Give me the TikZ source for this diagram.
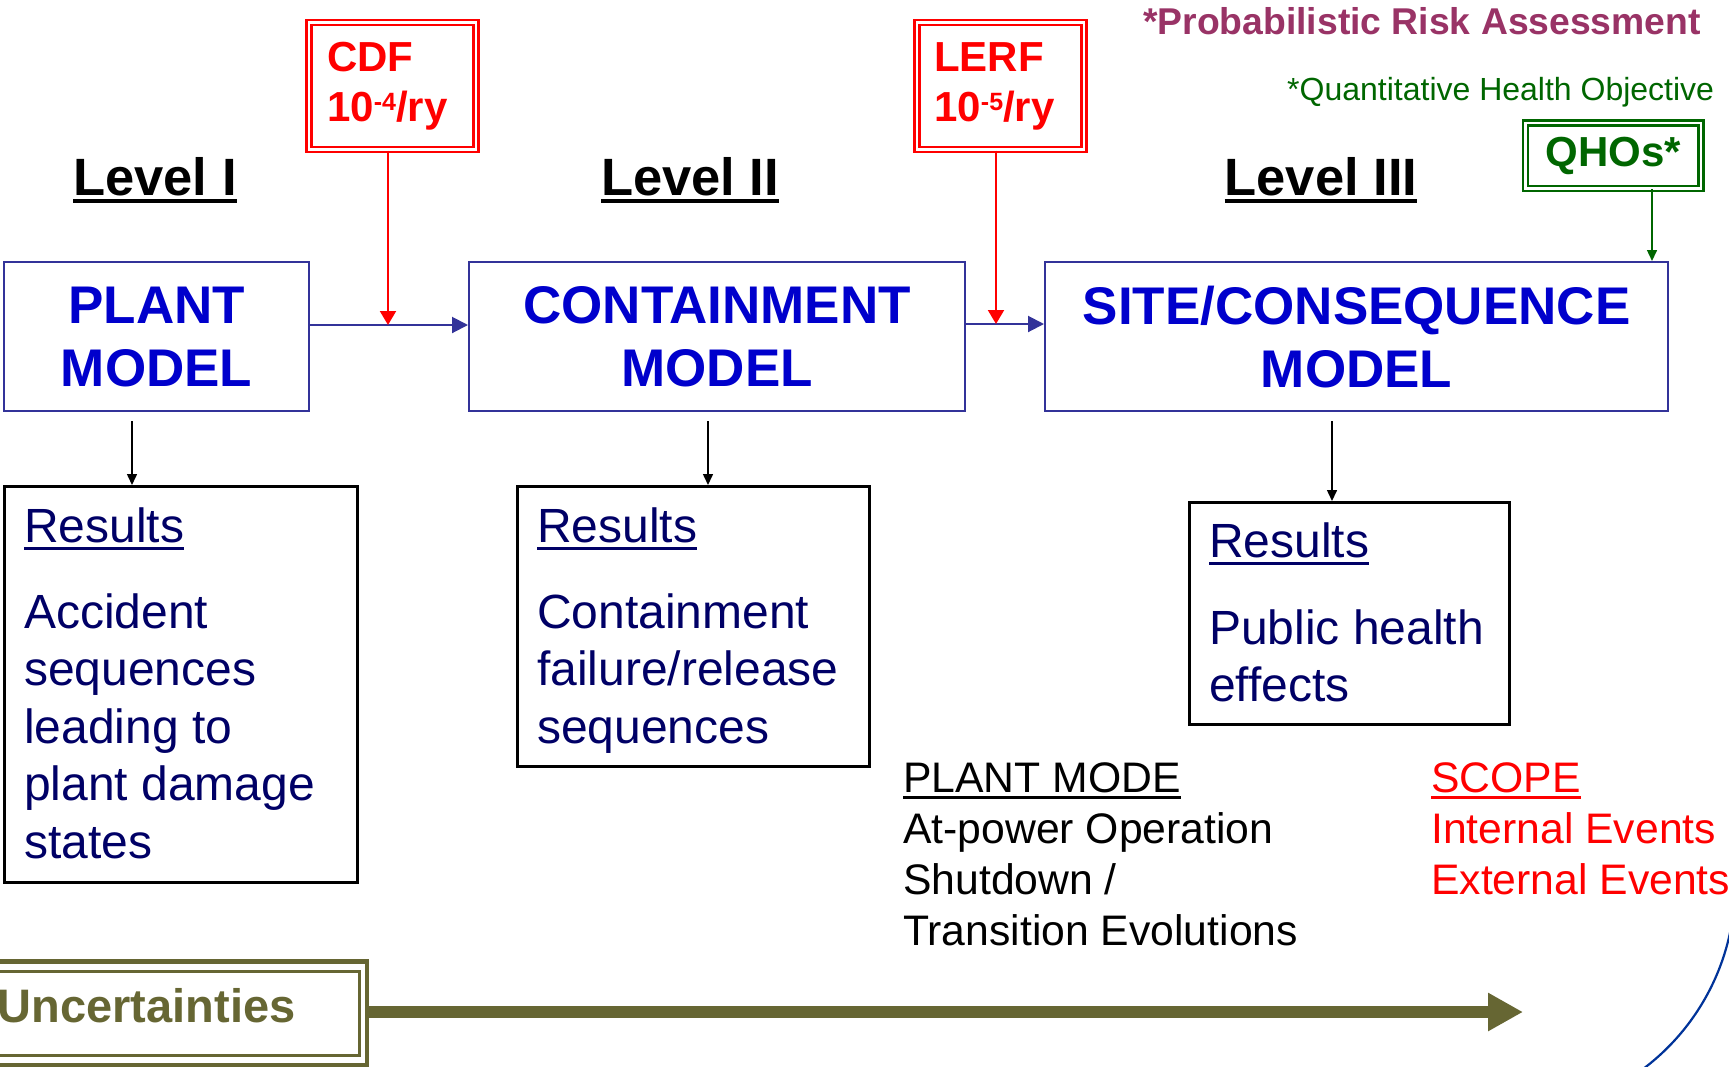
\documentclass[tikz,border=0pt]{standalone}
\usepackage{fontspec}
\setmainfont{Liberation Sans}
\usetikzlibrary{arrows.meta}
\definecolor{boxblue}{HTML}{333399}
\definecolor{modelblue}{HTML}{0000CC}
\definecolor{navytext}{HTML}{000066}
\definecolor{qgreen}{HTML}{006600}
\definecolor{prapurple}{HTML}{993366}
\definecolor{uncolive}{HTML}{666633}
\definecolor{arcblue}{HTML}{003399}
\definecolor{pred}{HTML}{FF0000}
\newsavebox\ulbox
\newcommand\ulin[3]{\sbox\ulbox{#3}\rlap{\rule[-#1]{\wd\ulbox}{#2}}\usebox\ulbox}
\newcommand\fsz[2]{\fontsize{#1pt}{#2pt}\selectfont}
\begin{document}
\begin{tikzpicture}[x=1pt,y=-1pt,
  txt/.style={inner sep=0pt, anchor=base west},
  modelbox/.style={draw=boxblue, line width=2.2pt, inner sep=0pt, anchor=north west,
    align=center, text=modelblue, font=\bfseries\fsz{53}{63}},
  resbox/.style={draw=black, line width=2.5pt, inner sep=0pt, anchor=north west},
  redbox/.style={draw=pred, double=white, line width=2.4pt, double distance=2.6pt,
    inner sep=0pt, anchor=north west, minimum width=166.9pt, minimum height=127.3pt},
  restext/.style={txt, text=navytext, font=\fsz{48}{57.5}},
  leveltext/.style={inner sep=0pt, anchor=base, font=\bfseries\fsz{52.5}{60}},
  redtext/.style={txt, text=pred, font=\bfseries\fsz{42}{50}},
  modetext/.style={txt, font=\fsz{42.7}{51.3}},
  bluearrow/.style={draw=boxblue, line width=2pt, -{Triangle[length=16pt,width=16pt]}},
  redarrow/.style={draw=pred, line width=2pt, -{Triangle[length=14pt,width=16pt]}},
  downarrow/.style={draw=black, line width=1.5pt, -{Triangle[length=11pt,width=10pt]}},
  greenarrow/.style={draw=qgreen, line width=1.5pt, -{Triangle[length=11pt,width=10pt]}},
  uncarrow/.style={draw=uncolive, line width=12pt, -{Triangle[length=35pt,width=36pt]}}
]
\useasboundingbox (0,0) rectangle (1729,1066);
\fill[white] (0,0) rectangle (1729,1066);
\clip (0,0) rectangle (1729,1066);

% headings
\node[txt, text=prapurple, font=\bfseries\fsz{37.3}{44}] (pra) at (1143,34) {*Probabilistic Risk Assessment};
\node[txt, text=qgreen, font=\fsz{32}{38}] (qhodef) at (1287,100) {*Quantitative Health Objective};

\node[leveltext] (lv1) at (155,195) {\ulin{7.5pt}{3.5pt}{Level I}};
\node[leveltext] (lv2) at (690,195) {\ulin{7.5pt}{3.5pt}{Level II}};
\node[leveltext] (lv3) at (1321,195) {\ulin{7.5pt}{3.5pt}{Level III}};

% criteria boxes
\node[redbox] (cdf) at (307.7,21) {};
\node[redtext] (cdft) at (327,71) {\vtop{\hbox{CDF}\hbox{10\raisebox{11pt}{\fsz{25}{25}-4}/ry}}};
\node[redbox] (lerf) at (915.7,21) {};
\node[redtext] (lerft) at (934,71) {\vtop{\hbox{LERF}\hbox{10\raisebox{11pt}{\fsz{25}{25}-5}/ry}}};

\node[draw=qgreen, double=white, line width=2.4pt, double distance=2.6pt, inner sep=0pt,
  anchor=north west, minimum width=175.6pt, minimum height=65.3pt, text=qgreen,
  font=\bfseries\fsz{42}{50}] (qho) at (1524,121.7) {QHOs*};

% model boxes
\node[modelbox, minimum width=305pt, minimum height=149pt] (plant) at (3,261) {PLANT\\MODEL};
\node[modelbox, minimum width=496pt, minimum height=149pt] (cont) at (468,261) {CONTAINMENT\\MODEL};
\node[modelbox, minimum width=623pt, minimum height=149pt] (site) at (1044,261) {SITE/CONSEQUENCE\\MODEL};

% connectors between models
\coordinate (j1) at (388,325);
\coordinate (j2) at (996,324);
\draw[bluearrow] (plant.east |- j1) -- (cont.west |- j1);
\draw[bluearrow] (cont.east |- j2) -- (site.west |- j2);
\draw[redarrow] (cdf.south -| j1) -- (j1);
\draw[redarrow] (lerf.south -| j2) -- (j2);
\coordinate (g1) at (1652,191);
\draw[greenarrow] (qho.south -| g1) -- (site.north -| g1);

% results boxes
\node[resbox, minimum width=353pt, minimum height=396pt] (res1) at (3,485) {};
\node[resbox, minimum width=352pt, minimum height=280pt] (res2) at (516,485) {};
\node[resbox, minimum width=320pt, minimum height=222pt] (res3) at (1188,501) {};

\node[restext] (r1h) at (24,542) {\ulin{8pt}{3pt}{Results}};
\node[restext] (r1b) at (24,628) {\vtop{\hbox{Accident}\hbox{sequences}\hbox{leading to}\hbox{plant damage}\hbox{states}}};
\node[restext] (r2h) at (537,542) {\ulin{8pt}{3pt}{Results}};
\node[restext] (r2b) at (537,628) {\vtop{\hbox{Containment}\hbox{failure/release}\hbox{sequences}}};
\node[restext] (r3h) at (1209,557) {\ulin{8pt}{3pt}{Results}};
\node[restext] (r3b) at (1209,644) {\vtop{\hbox{Public health}\hbox{effects}}};

\coordinate (d1) at (132,421);
\coordinate (d2) at (708,421);
\coordinate (d3) at (1332,421);
\draw[downarrow] (d1) -- (d1 |- res1.north);
\draw[downarrow] (d2) -- (d2 |- res2.north);
\draw[downarrow] (d3) -- (d3 |- res3.north);

% plant mode / scope
\node[modetext] (mode) at (903,792) {\vtop{\hbox{\ulin{7.3pt}{3.3pt}{PLANT MODE}}\hbox{At-power Operation}\hbox{Shutdown /}\hbox{Transition Evolutions}}};
\node[modetext, text=pred] (scope) at (1431,792) {\vtop{\hbox{\ulin{7.3pt}{3.3pt}{SCOPE}}\hbox{Internal Events}\hbox{External Events}}};

% uncertainties
\node[draw=uncolive, line width=4pt, inner sep=0pt, anchor=north east,
  minimum width=389pt, minimum height=104pt] (unc) at (369,959) {};
\draw[uncolive, line width=1.5pt] ([shift={(-5,4.5)}]unc.north west) rectangle ([shift={(-2.5,-3.5)}]unc.south east);
\draw[uncolive, line width=3pt] ([shift={(-5,12.5)}]unc.north west) rectangle ([shift={(-9.5,-11.5)}]unc.south east);
\node[txt, text=uncolive, font=\bfseries\fsz{47}{54}] (unct) at (-2.5,1022) {Uncertainties};
\coordinate (uend) at (1523,1012);
\draw[uncarrow] (unc.east |- uend) -- (uend);

% decorative arc
\draw[arcblue, line width=2.2pt] (1505,885) ++(8:230) arc[start angle=8, end angle=60, radius=230];
\end{tikzpicture}
\end{document}
